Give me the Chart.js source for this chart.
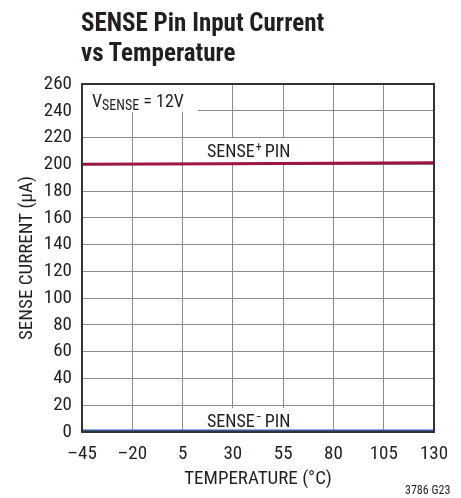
<!DOCTYPE html>
<html>
<head>
<meta charset="utf-8">
<script src="https://cdn.jsdelivr.net/npm/chart.js@4.4.1/dist/chart.umd.min.js"></script>
<style>
  html, body { margin: 0; padding: 0; background: #fff; }
  #wrap { position: relative; width: 461px; height: 498px; overflow: hidden; }
  canvas { position: absolute; left: 0; top: 0; }
  .ttl { position: absolute; left: 81px; top: 8px; font-family: "Roboto Condensed", sans-serif;
         font-weight: bold; font-size: 25px; line-height: 30px; color: #231f20; white-space: nowrap; }
  .note { position: absolute; left: 405px; top: 483px; font-family: "Roboto Condensed", sans-serif;
          font-size: 12px; color: #231f20; }
</style>
</head>
<body>
<div id="wrap">
  <canvas id="c" width="461" height="498"></canvas>
  <div class="ttl">SENSE Pin Input Current<br>vs Temperature</div>
  <div class="note">3786 G23</div>
</div>
<script>
const temperatures = [-45, 25, 130];
const sensePlusCurrent = [200.0, 200.5, 201.2];
const senseMinusCurrent = [0.6, 0.6, 0.6];
const xTicks = [-45, -20, 5, 30, 55, 80, 105, 130];
const yTicks = [0, 20, 40, 60, 80, 100, 120, 140, 160, 180, 200, 220, 240, 260];

const FONT = '"Roboto Condensed", sans-serif';
const TXT = '#231f20';

function toPoints(xs, ys) { return xs.map((x, i) => ({ x: x, y: ys[i] })); }

const labelsPlugin = {
  id: 'labels',
  beforeDatasetsDraw(chart) {
    const { ctx, chartArea: a } = chart;
    ctx.save();
    ctx.fillStyle = '#fff';
    ctx.fillRect(a.left, a.top, 116, 28);
    ctx.fillRect(202, 138, 98, 24);
    ctx.fillRect(202, 408, 98, 22);
    ctx.fillStyle = TXT;
    ctx.textBaseline = 'alphabetic';
    ctx.textAlign = 'left';
    // VSENSE = 12V
    let x = a.left + 10, y = a.top + 23;
    ctx.font = '18px ' + FONT;
    ctx.fillText('V', x, y);
    x += ctx.measureText('V').width;
    ctx.font = '14px ' + FONT;
    ctx.fillText('SENSE', x, y + 3);
    x += ctx.measureText('SENSE').width;
    ctx.font = '18px ' + FONT;
    ctx.fillText(' = 12V', x, y);
    // SENSE+ PIN
    x = 207; y = 157;
    ctx.font = '18px ' + FONT;
    ctx.fillText('SENSE', x, y);
    x += ctx.measureText('SENSE').width;
    ctx.font = '12px ' + FONT;
    ctx.fillText('+', x + 1, y - 6);
    x += ctx.measureText('+').width + 4;
    ctx.font = '18px ' + FONT;
    ctx.fillText('PIN', x, y);
    // SENSE- PIN
    x = 207; y = 427;
    ctx.fillText('SENSE', x, y);
    x += ctx.measureText('SENSE').width;
    ctx.font = '12px ' + FONT;
    ctx.fillText('\u2212', x + 1, y - 6);
    x += ctx.measureText('\u2212').width + 4;
    ctx.font = '18px ' + FONT;
    ctx.fillText('PIN', x, y);
    ctx.restore();
  },
  afterDatasetsDraw(chart) {
    const { ctx, chartArea: a } = chart;
    ctx.save();
    ctx.strokeStyle = '#333';
    ctx.lineWidth = 2;
    ctx.strokeRect(a.left, a.top, a.right - a.left, a.bottom - a.top);
    ctx.restore();
  }
};

new Chart(document.getElementById('c'), {
  type: 'line',
  data: {
    datasets: [
      { data: toPoints(temperatures, sensePlusCurrent), borderColor: '#9e1640', borderWidth: 3, pointRadius: 0, tension: 0 },
      { data: toPoints(temperatures, senseMinusCurrent), borderColor: '#3a55a6', borderWidth: 3.5, pointRadius: 0, tension: 0 }
    ]
  },
  options: {
    responsive: false,
    animation: false,
    events: [],
    layout: { padding: { left: 0, right: 27, top: 84, bottom: 0 } },
    plugins: { legend: { display: false }, tooltip: { enabled: false }, title: { display: false } },
    scales: {
      x: {
        type: 'linear', min: -45, max: 130,
        afterBuildTicks(s) { s.ticks = xTicks.map(v => ({ value: v })); },
        afterFit(s) { s.height = 66; },
        ticks: { font: { family: FONT, size: 19 }, color: TXT, padding: 11, maxRotation: 0,
                 callback: v => String(v).replace('-', '\u2013') },
        grid: { color: '#8c8c8c', lineWidth: 1, drawTicks: false },
        border: { display: true, color: '#333', width: 2 },
        title: { display: true, text: 'TEMPERATURE (°C)', font: { family: FONT, size: 19 }, color: TXT,
                 padding: { top: 0, bottom: 7 } }
      },
      y: {
        min: 0, max: 260,
        afterBuildTicks(s) { s.ticks = yTicks.map(v => ({ value: v })); },
        afterFit(s) { s.width = 82; },
        ticks: { font: { family: FONT, size: 19 }, color: TXT, padding: 10 },
        grid: { color: '#8c8c8c', lineWidth: 1, drawTicks: false },
        border: { display: true, color: '#333', width: 2 },
        title: { display: true, text: 'SENSE CURRENT (\u03bcA)', font: { family: FONT, size: 19 }, color: TXT,
                 padding: { top: 16, bottom: 0 } }
      }
    }
  },
  plugins: [labelsPlugin]
});
</script>
</body>
</html>
